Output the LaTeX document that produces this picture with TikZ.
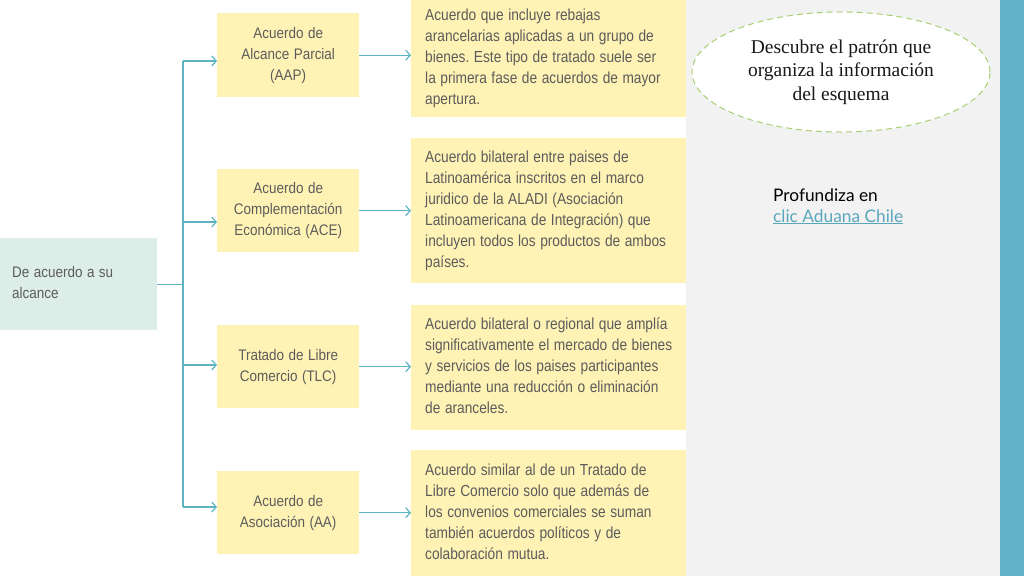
\documentclass[tikz,border=0pt]{standalone}
\usepackage{graphicx}
\usepackage{fontspec}
\setmainfont{Liberation Serif}
\newfontfamily\narrowfont{Liberation Sans}
\newfontfamily\gillfont{Lato}
\usetikzlibrary{arrows.meta,shapes.geometric}
\definecolor{boxyellow}{HTML}{FFF2B5}
\definecolor{srcteal}{HTML}{DDEEE9}
\definecolor{linkteal}{HTML}{5DB4C1}
\definecolor{txtgrey}{HTML}{5C5C5C}
\definecolor{bggrey}{HTML}{F2F2F2}
\definecolor{stripteal}{HTML}{62B3C8}
\definecolor{dashgreen}{HTML}{A8CF72}
\definecolor{hyper}{HTML}{5AA7BD}
\frenchspacing
\newcommand\condL[1]{\scalebox{0.88}[1]{\begin{tabular}{@{}l@{}}#1\end{tabular}}}
\newcommand\condC[1]{\scalebox{0.88}[1]{\begin{tabular}{@{}c@{}}#1\end{tabular}}}
\newcommand\condD[1]{\scalebox{0.857}[1]{\begin{tabular}{@{}l@{}}#1\end{tabular}}}
\begin{document}
\begin{tikzpicture}[x=1pt,y=-1pt,
  bodytext/.style={font=\narrowfont\fontsize{15.3}{21}\selectfont, text=txtgrey},
  srcbox/.style={bodytext, fill=srcteal, rectangle, inner xsep=12pt, inner ysep=0pt,
     minimum width=157pt, minimum height=92pt, text width=133pt, align=left, anchor=north west},
  kindbox/.style={bodytext, fill=boxyellow, rectangle, inner sep=0pt,
     minimum width=142pt, text width=142pt, align=center, anchor=north west},
  descbox/.style={font=\narrowfont\fontsize{16}{21}\selectfont, text=txtgrey,
     fill=boxyellow, rectangle, inner xsep=14pt, inner ysep=0pt,
     minimum width=275pt, text width=247pt, align=left, anchor=north west},
  conn/.style={draw=linkteal, line width=1.2pt},
  arr/.style={conn, -{Straight Barb[length=4.5pt,width=10pt,line width=1.2pt]}}
]
\useasboundingbox (0,0) rectangle (1024,576);
% backgrounds
\fill[bggrey] (686,0) rectangle (1000,576);
\fill[stripteal] (1000,0) rectangle (1024,576);

% source
\node[srcbox] (src) at (0,238) {\condL{De acuerdo a su\\alcance}};

% kinds
\node[kindbox, minimum height=84pt] (b1) at (217,13) {\condC{Acuerdo de\\Alcance Parcial\\(AAP)}};
\node[kindbox, minimum height=83pt] (b2) at (217,169) {\condC{Acuerdo de\\Complementación\\Económica (ACE)}};
\node[kindbox, minimum height=83pt] (b3) at (217,325) {\condC{Tratado de Libre\\Comercio (TLC)}};
\node[kindbox, minimum height=83pt] (b4) at (217,471) {\condC{Acuerdo de\\Asociación (AA)}};

% descriptions
\node[descbox, minimum height=117pt] (d1) at (411,0) {\condD{Acuerdo que incluye rebajas\\arancelarias aplicadas a un grupo de\\bienes. Este tipo de tratado suele ser\\la primera fase de acuerdos de mayor\\apertura.}};
\node[descbox, minimum height=145pt] (d2) at (411,138) {\condD{Acuerdo bilateral entre paises de\\Latinoamérica inscritos en el marco\\juridico de la ALADI (Asociación\\Latinoamericana de Integración) que\\incluyen todos los productos de ambos\\países.}};
\node[descbox, minimum height=125pt] (d3) at (411,305) {\condD{Acuerdo bilateral o regional que amplía\\significativamente el mercado de bienes\\y servicios de los paises participantes\\mediante una reducción o eliminación\\de aranceles.}};
\node[descbox, minimum height=126pt] (d4) at (411,450) {\condD{Acuerdo similar al de un Tratado de\\Libre Comercio solo que además de\\los convenios comerciales se suman\\también acuerdos políticos y de\\colaboración mutua.}};

% bus coordinates
\coordinate (j1) at (183,61);
\coordinate (j2) at (183,222);
\coordinate (j3) at (183,365);
\coordinate (j4) at (183,507);

\draw[conn] (j1) -- (j4);
\draw[conn] (src.east) -- (src.east -| j1);
\draw[arr] (j1) -- (b1.west |- j1);
\draw[arr] (j2) -- (b2.west |- j2);
\draw[arr] (j3) -- (b3.west |- j3);
\draw[arr] (j4) -- (b4.west |- j4);

\draw[arr] (b1.east) -- (b1.east -| d1.west);
\draw[arr] (b2.east) -- (b2.east -| d2.west);
\draw[arr] (b3.east) -- (b3.east -| d3.west);
\draw[arr] (b4.east) -- (b4.east -| d4.west);

% ellipse
\node[ellipse, draw=dashgreen, fill=white, line width=1pt, dash pattern=on 6pt off 4pt,
  minimum width=298pt, minimum height=120pt, inner sep=0pt,
  font=\fontsize{19.5}{23.5}\selectfont, text=black!90, align=center] (ell) at (841,72)
  {Descubre el patrón que\\organiza la información\\del esquema};

% link text
\node[font=\gillfont\fontsize{17.3}{21}\selectfont, text=black, anchor=base west, inner sep=0pt] (prof) at (773,201) {Profundiza en};
\node[font=\gillfont\fontsize{17.3}{21}\selectfont, text=hyper, anchor=base west, inner sep=0pt] (link) at (773,222) {\underline{clic Aduana Chile}};
\end{tikzpicture}
\end{document}
